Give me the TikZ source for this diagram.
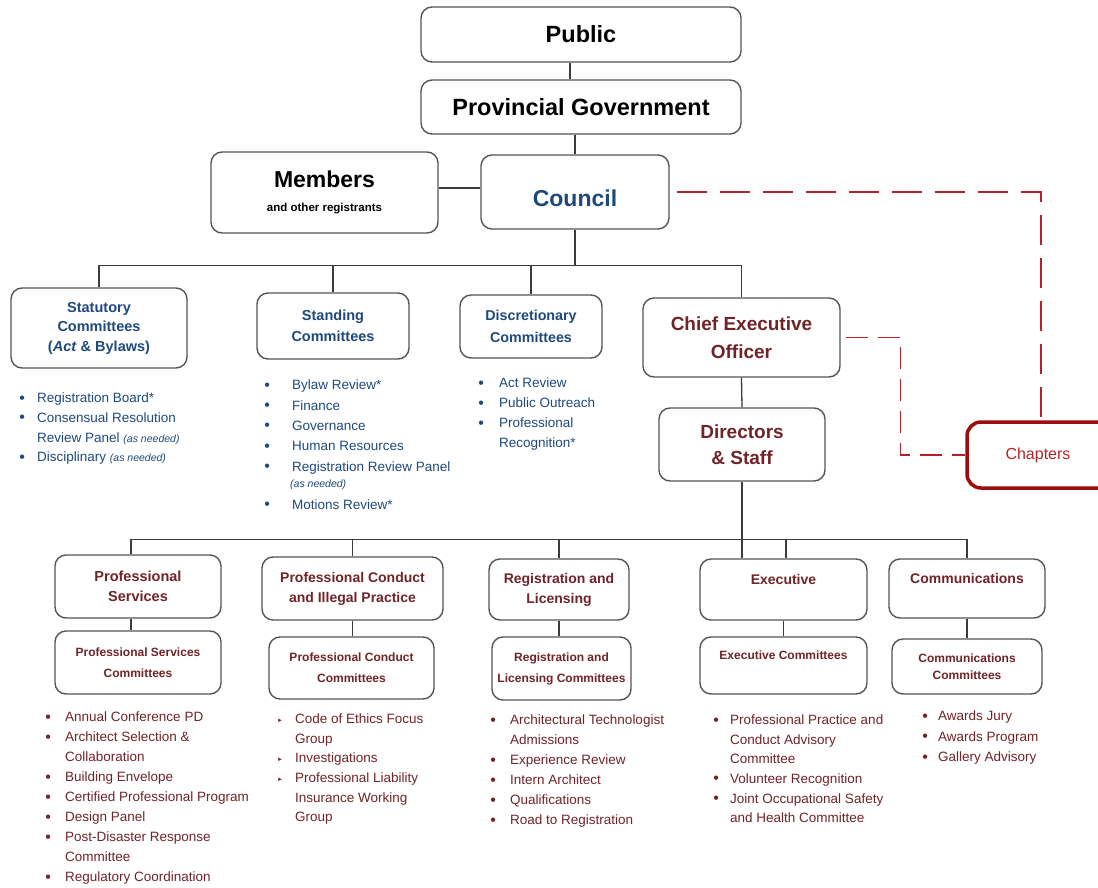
\documentclass[tikz,border=0pt]{standalone}
\usepackage{fontspec}
\setmainfont{Liberation Sans}
\definecolor{boxgray}{RGB}{85,85,85}
\definecolor{linegray}{RGB}{60,60,60}
\definecolor{orgblue}{RGB}{31,73,125}
\definecolor{orgred}{RGB}{112,36,40}
\definecolor{dashred}{RGB}{178,34,40}
\definecolor{chapred}{RGB}{158,12,12}
\definecolor{chaptext}{RGB}{172,40,40}
\newcommand\setfs[2]{\fontsize{#1}{#2}\selectfont}
% bullet, small triangle bullet and hanging indent of a given width
\newcommand\bi[1]{\makebox[#1pt][l]{\hspace*{-0.5pt}\raisebox{-0.4pt}{\setfs{16}{16}•}}}
\newcommand\tri[1]{\makebox[#1pt][l]{\raisebox{1pt}{\setfs{6}{6}►}}}
\newcommand\bc[1]{\hspace*{#1pt}}
\newcommand\asneeded{{\setfs{10.5}{12}\itshape (as needed)}}
% fixed height of a list's first line, so its top sits 11pt above the baseline
\newcommand\firstline{\rule{0pt}{11pt}}
\begin{document}
\begin{tikzpicture}[x=1pt,y=-1pt,
  box/.style={draw=boxgray,line width=1.4pt,rounded corners=11pt,fill=white,
    inner sep=0pt,align=center},
  conn/.style={draw=linegray,line width=1.3pt},
  reddash/.style={draw=dashred,line width=1.5pt,dash pattern=on 30pt off 13pt},
  reddashb/.style={draw=dashred,line width=1.5pt,dash pattern=on 22pt off 10pt},
  list/.style={anchor=north west,inner sep=0pt,align=left}]
\clip (0,0) rectangle (1098,888);
\fill[white] (0,0) rectangle (1098,888);

% top of the hierarchy
\node[box,minimum width=320,minimum height=55,font=\bfseries\setfs{23.5}{26}]
  (pub) at (581,34.5) {Public};
\node[box,minimum width=320,minimum height=54,font=\bfseries\setfs{23.5}{26}]
  (prov) at (581,107) {Provincial Government};
\node[box,minimum width=227,minimum height=81,font=\bfseries\setfs{23}{24}]
  (mem) at (324.5,192.5) {Members\\{\setfs{11.5}{12}and other registrants}};
\node[box,minimum width=188,minimum height=74,font=\bfseries\setfs{23}{26},text=orgblue]
  (coun) at (575,192) {\rule{0pt}{28.7pt}Council};

% council committees and CEO
\node[box,minimum width=176,minimum height=80,font=\bfseries\setfs{14.5}{19.5},text=orgblue]
  (stat) at (99,328) {Statutory\\Committees\\(\textit{Act} \& Bylaws)};
\node[box,minimum width=152,minimum height=66,font=\bfseries\setfs{14.5}{21},text=orgblue]
  (stand) at (333,326) {Standing\\Committees};
\node[box,minimum width=142,minimum height=63,font=\bfseries\setfs{14.3}{22},text=orgblue]
  (disc) at (531,326.5) {Discretionary\\Committees};
\node[box,minimum width=197,minimum height=79,font=\bfseries\setfs{19}{28},text=orgred]
  (ceo) at (741.5,337.5) {Chief Executive\\Officer};
\node[box,minimum width=166,minimum height=73,font=\bfseries\setfs{19}{26},text=orgred]
  (dirs) at (742,444.5) {Directors\\\& Staff};
\node[draw=chapred,line width=3.5pt,rounded corners=14pt,fill=white,inner sep=0pt,
  minimum width=148,minimum height=66,font=\setfs{16}{18},text=chaptext]
  (chap) at (1041,455) {\hspace*{-6pt}Chapters};

% departments
\node[box,minimum width=166,minimum height=63,font=\bfseries\setfs{14.5}{20},text=orgred]
  (ps) at (138,586.5) {Professional\\Services};
\node[box,minimum width=181,minimum height=63,font=\bfseries\setfs{14}{20},text=orgred]
  (pc) at (352.5,588.5) {Professional Conduct\\and Illegal Practice};
\node[box,minimum width=140,minimum height=61,font=\bfseries\setfs{14}{20},text=orgred]
  (rl) at (559,589.5) {Registration and\\Licensing};
\node[box,minimum width=167,minimum height=61,font=\bfseries\setfs{14}{20},text=orgred]
  (ex) at (783.5,589.5) {Executive\\\phantom{X}};
\node[box,minimum width=156,minimum height=59,font=\bfseries\setfs{14}{20},text=orgred]
  (cm) at (967,588.5) {Communications\\\phantom{X}};

% department committees
\node[box,minimum width=166,minimum height=63,font=\bfseries\setfs{12}{21},text=orgred]
  (psc) at (138,662.5) {Professional Services\\Committees};
\node[box,minimum width=165,minimum height=62,font=\bfseries\setfs{12}{21},text=orgred]
  (pcc) at (351.5,668) {Professional Conduct\\Committees};
\node[box,minimum width=139,minimum height=63,font=\bfseries\setfs{12}{21},text=orgred]
  (rlc) at (561.5,668.5) {Registration and\\Licensing Committees};
\node[box,minimum width=167,minimum height=57,font=\bfseries\setfs{12}{20},text=orgred]
  (exc) at (783.5,665.5) {Executive Committees\\\phantom{X}};
\node[box,minimum width=150,minimum height=55,font=\bfseries\setfs{12}{17},text=orgred]
  (cmc) at (967,666.5) {Communications\\Committees};

% solid connectors
\draw[conn] ([xshift=-11pt]pub.south) -- ([xshift=-11pt]prov.north);
\draw[conn] (prov.south -| coun.north) -- (coun.north);
\draw[conn] ([yshift=4.5pt]mem.east) -- ([yshift=4.5pt]mem.east -| coun.west);
\draw[conn] (coun.south) -- ++(0,36) coordinate (cb);
\draw[conn] (stat.north) |- (cb) -| (ceo.north);
\draw[conn] (stand.north) -- (stand.north |- cb);
\draw[conn] (disc.north) -- (disc.north |- cb);
\draw[conn] (ceo.south) -- (dirs.north);
\draw[conn] (dirs.south) -- (dirs.south |- ex.north);
\path (dirs.south) ++(0,58) coordinate (db);
\draw[conn] ([xshift=-7pt]ps.north) |- (db) -| (cm.north);
\draw[conn] (pc.north) -- (pc.north |- db);
\draw[conn] (rl.north) -- (rl.north |- db);
\draw[conn] ([xshift=2.5pt]ex.north) -- ([xshift=2.5pt]ex.north |- db);
\draw[conn] ([xshift=-7pt]ps.south) -- ([xshift=-7pt]psc.north);
\draw[conn] (pc.south) -- (pc.south |- pcc.north);
\draw[conn] (rl.south) -- (rl.south |- rlc.north);
\draw[conn] (ex.south) -- (exc.north);
\draw[conn] (cm.south) -- (cmc.north);

% dashed links to the chapters
\draw[reddash] (coun.east) ++(7,0) -| (chap.north);
\draw[reddashb] (ceo.east) ++(5,0) -- ++(55,0) |- (chap.west);

% committee lists
\node[list,text=orgblue,font=\setfs{13.5}{19.7}] (lstat) at (19.6,391.5)
  {\firstline\bi{17.4}Registration Board*\\\bi{17.4}Consensual Resolution\\\bc{17.4}Review Panel \asneeded\\\bi{17.4}Disciplinary \asneeded};
\node[list,text=orgblue,font=\setfs{13.5}{20.4}] (lstand) at (264.6,378.5)
  {\firstline\bi{27.4}Bylaw Review*\\\bi{27.4}Finance\\\bi{27.4}Governance\\\bi{27.4}Human Resources\\\bi{27.4}Registration Review Panel\\[-4.4pt]\bc{25.4}\asneeded\\[1.6pt]\bi{27.4}Motions Review*};
\node[list,text=orgblue,font=\setfs{13.5}{20}] (ldisc) at (478.6,376.5)
  {\firstline\bi{20.4}Act Review\\\bi{20.4}Public Outreach\\\bi{20.4}Professional\\\bc{20.4}Recognition*};
\node[list,text=orgred,font=\setfs{13.5}{20}] (lps) at (45.6,710.5)
  {\firstline\bi{19.4}Annual Conference PD\\\bi{19.4}Architect Selection \&\\\bc{19.4}Collaboration\\\bi{19.4}Building Envelope\\\bi{19.4}Certified Professional Program\\\bi{19.4}Design Panel\\\bi{19.4}Post-Disaster Response\\\bc{19.4}Committee\\\bi{19.4}Regulatory Coordination};
\node[list,text=orgred,font=\setfs{13.5}{19.6}] (lpc) at (277,712.5)
  {\firstline\tri{18}Code of Ethics Focus\\\bc{18}Group\\\tri{18}Investigations\\\tri{18}Professional Liability\\\bc{18}Insurance Working\\\bc{18}Group};
\node[list,text=orgred,font=\setfs{13.5}{20}] (lrl) at (490.6,713.5)
  {\firstline\bi{19.4}Architectural Technologist\\\bc{19.4}Admissions\\\bi{19.4}Experience Review\\\bi{19.4}Intern Architect\\\bi{19.4}Qualifications\\\bi{19.4}Road to Registration};
\node[list,text=orgred,font=\setfs{13.5}{19.6}] (lex) at (713.6,713.5)
  {\firstline\bi{16.4}Professional Practice and\\\bc{16.4}Conduct Advisory\\\bc{16.4}Committee\\\bi{16.4}Volunteer Recognition\\\bi{16.4}Joint Occupational Safety\\\bc{16.4}and Health Committee};
\node[list,text=orgred,font=\setfs{13.5}{20.5}] (lcm) at (922.6,709.5)
  {\firstline\bi{15.4}Awards Jury\\\bi{15.4}Awards Program\\\bi{15.4}Gallery Advisory};
\end{tikzpicture}
\end{document}
